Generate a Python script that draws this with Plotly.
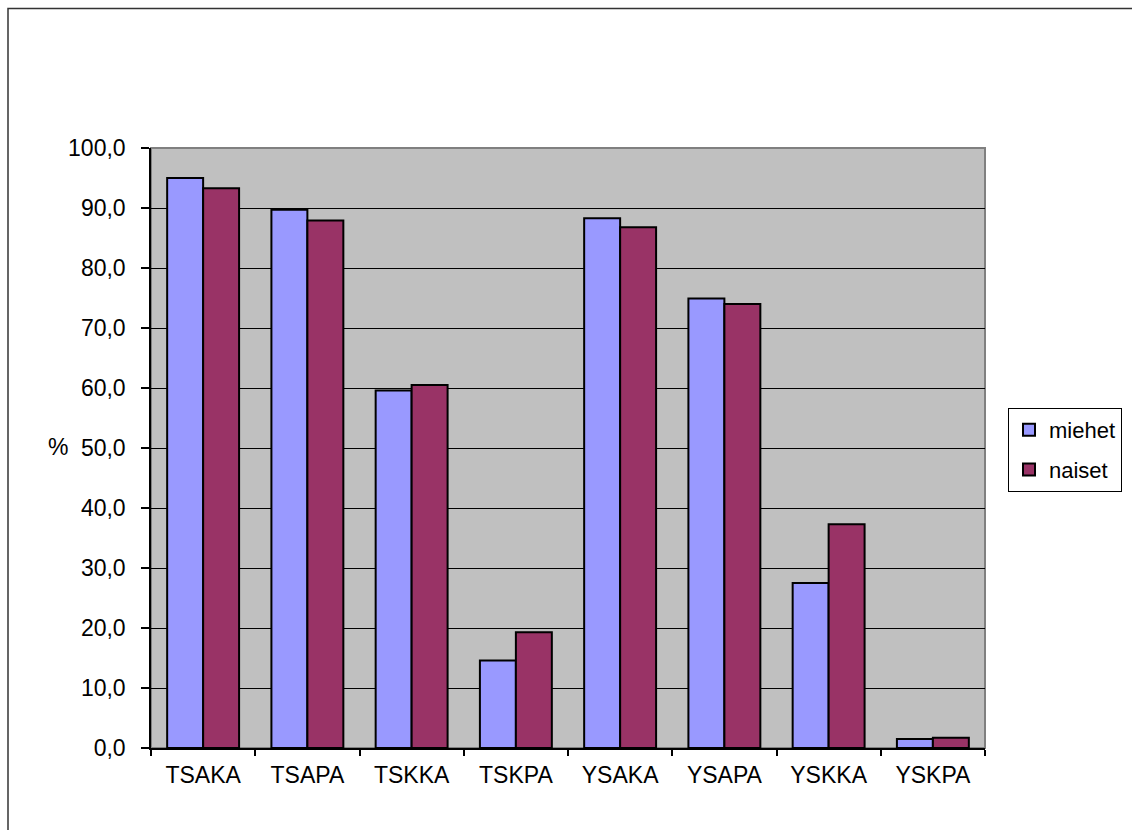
import plotly.graph_objects as go

categories = ["TSAKA", "TSAPA", "TSKKA", "TSKPA", "YSAKA", "YSAPA", "YSKKA", "YSKPA"]
miehet = [95.0, 89.7, 59.6, 14.6, 88.3, 74.9, 27.5, 1.5]
naiset = [93.3, 87.9, 60.5, 19.3, 86.8, 74.0, 37.3, 1.7]
series_names = ["miehet", "naiset"]
y_ticks = [0, 10, 20, 30, 40, 50, 60, 70, 80, 90, 100]

W, H = 1132, 830
L, R, T, B = 151, 147, 148, 82
pw, ph = W - L - R, H - T - B

FONT = "Liberation Sans, Arial, sans-serif"
FS = 23

fig = go.Figure()
fig.add_trace(go.Bar(name=series_names[0], x=categories, y=miehet, legendgroup="m",
                     marker=dict(color="#9999FF", line=dict(color="#000000", width=2))))
fig.add_trace(go.Bar(name=series_names[1], x=categories, y=naiset, legendgroup="n",
                     marker=dict(color="#993366", line=dict(color="#000000", width=2))))

def px_x(p):
    return (p - L) / pw

def px_y(p):
    return (H - B - p) / ph

shapes = [
    dict(type="rect", xref="paper", yref="paper", x0=0, x1=1, y0=0, y1=1,
         line=dict(color="#808080", width=2), layer="below"),
    dict(type="rect", xref="paper", yref="paper",
         x0=px_x(8), x1=px_x(1145), y0=px_y(845), y1=px_y(8.5),
         line=dict(color="#333333", width=1.5), layer="above"),
]

fig.add_annotation(text="%", xref="paper", yref="paper", x=px_x(58), y=px_y(447),
                   showarrow=False, font=dict(family=FONT, size=FS, color="#000"),
                   xanchor="center", yanchor="middle")

fig.update_layout(
    width=W, height=H,
    margin=dict(l=L, r=R, t=T, b=B, autoexpand=False),
    paper_bgcolor="#FFFFFF",
    plot_bgcolor="#C0C0C0",
    barmode="group",
    bargap=0.31,
    bargroupgap=0,
    separators=", ",
    font=dict(family=FONT, size=FS, color="#000"),
    shapes=shapes,
    legend=dict(x=px_x(1008), y=px_y(408), xanchor="left", yanchor="top",
                bordercolor="#000000", borderwidth=1, bgcolor="#FFFFFF",
                font=dict(family=FONT, size=22, color="#000"),
                tracegroupgap=8, itemwidth=30),
)

fig.update_xaxes(showgrid=False, showline=True, linecolor="#000000", linewidth=1.5,
                 ticks="outside", ticklen=6, tickcolor="#000000", tickwidth=1.5,
                 tickson="boundaries", ticklabelstandoff=6,
                 tickfont=dict(family=FONT, size=FS, color="#000"))
fig.update_yaxes(range=[0, 100], tickvals=y_ticks, tickformat=".1f",
                 showgrid=True, gridcolor="#000000", gridwidth=1,
                 showline=True, linecolor="#000000", linewidth=1.5,
                 ticks="outside", ticklen=8, tickcolor="#000000", tickwidth=1.5,
                 ticklabelstandoff=11, zeroline=False,
                 tickfont=dict(family=FONT, size=FS, color="#000"))

fig.write_html("out.html")
